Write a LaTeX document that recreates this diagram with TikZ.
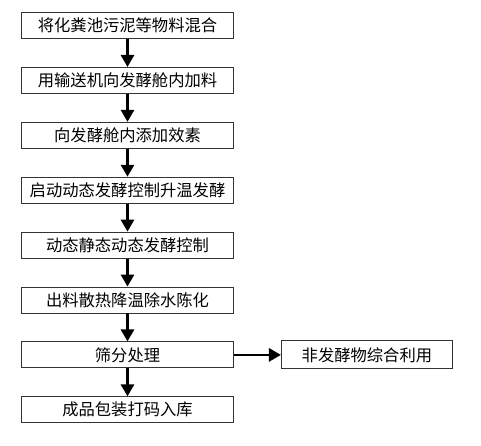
\documentclass[tikz,border=0pt]{standalone}
\usepackage{fontspec}
\setmainfont{Noto Sans CJK SC}
\usetikzlibrary{positioning}
\usetikzlibrary{arrows.meta}

\tikzset{
    stepbox/.style={rectangle, minimum width=212pt, minimum height=26pt, inner sep=0pt, draw=black!80, line width=0.9pt, font=\fontsize{16.3pt}{17pt}\selectfont, text centered},
    flowarrow/.style={-{Triangle[length=12pt, width=13pt]}, line width=2.8pt, black}
}

\begin{document}
\begin{tikzpicture}[x=1pt, y=1pt, node distance=28pt]
    \useasboundingbox (0,0) rectangle (481,-445);

    \node [stepbox] (mix) at (127.5,-25.5) {将化粪池污泥等物料混合};
    \node [stepbox, below=of mix] (feed) {用输送机向发酵舱内加料};
    \node [stepbox, below=of feed] (enzyme) {向发酵舱内添加效素};
    \node [stepbox, below=of enzyme] (heat) {启动动态发酵控制升温发酵};
    \node [stepbox, below=of heat] (control) {动态静态动态发酵控制};
    \node [stepbox, below=of control] (cool) {出料散热降温除水陈化};
    \node [stepbox, below=of cool] (sieve) {筛分处理};
    \node [stepbox, below=of sieve] (pack) {成品包装打码入库};
    \node [stepbox, minimum width=171pt, minimum height=28pt, right=47pt of sieve] (reuse) {非发酵物综合利用};

    \draw [flowarrow] (mix) -- (feed);
    \draw [flowarrow] (feed) -- (enzyme);
    \draw [flowarrow] (enzyme) -- (heat);
    \draw [flowarrow] (heat) -- (control);
    \draw [flowarrow] (control) -- (cool);
    \draw [flowarrow] (cool) -- (sieve);
    \draw [flowarrow] (sieve) -- (pack);
    \draw [flowarrow] (sieve) -- (reuse);
\end{tikzpicture}
\end{document}
